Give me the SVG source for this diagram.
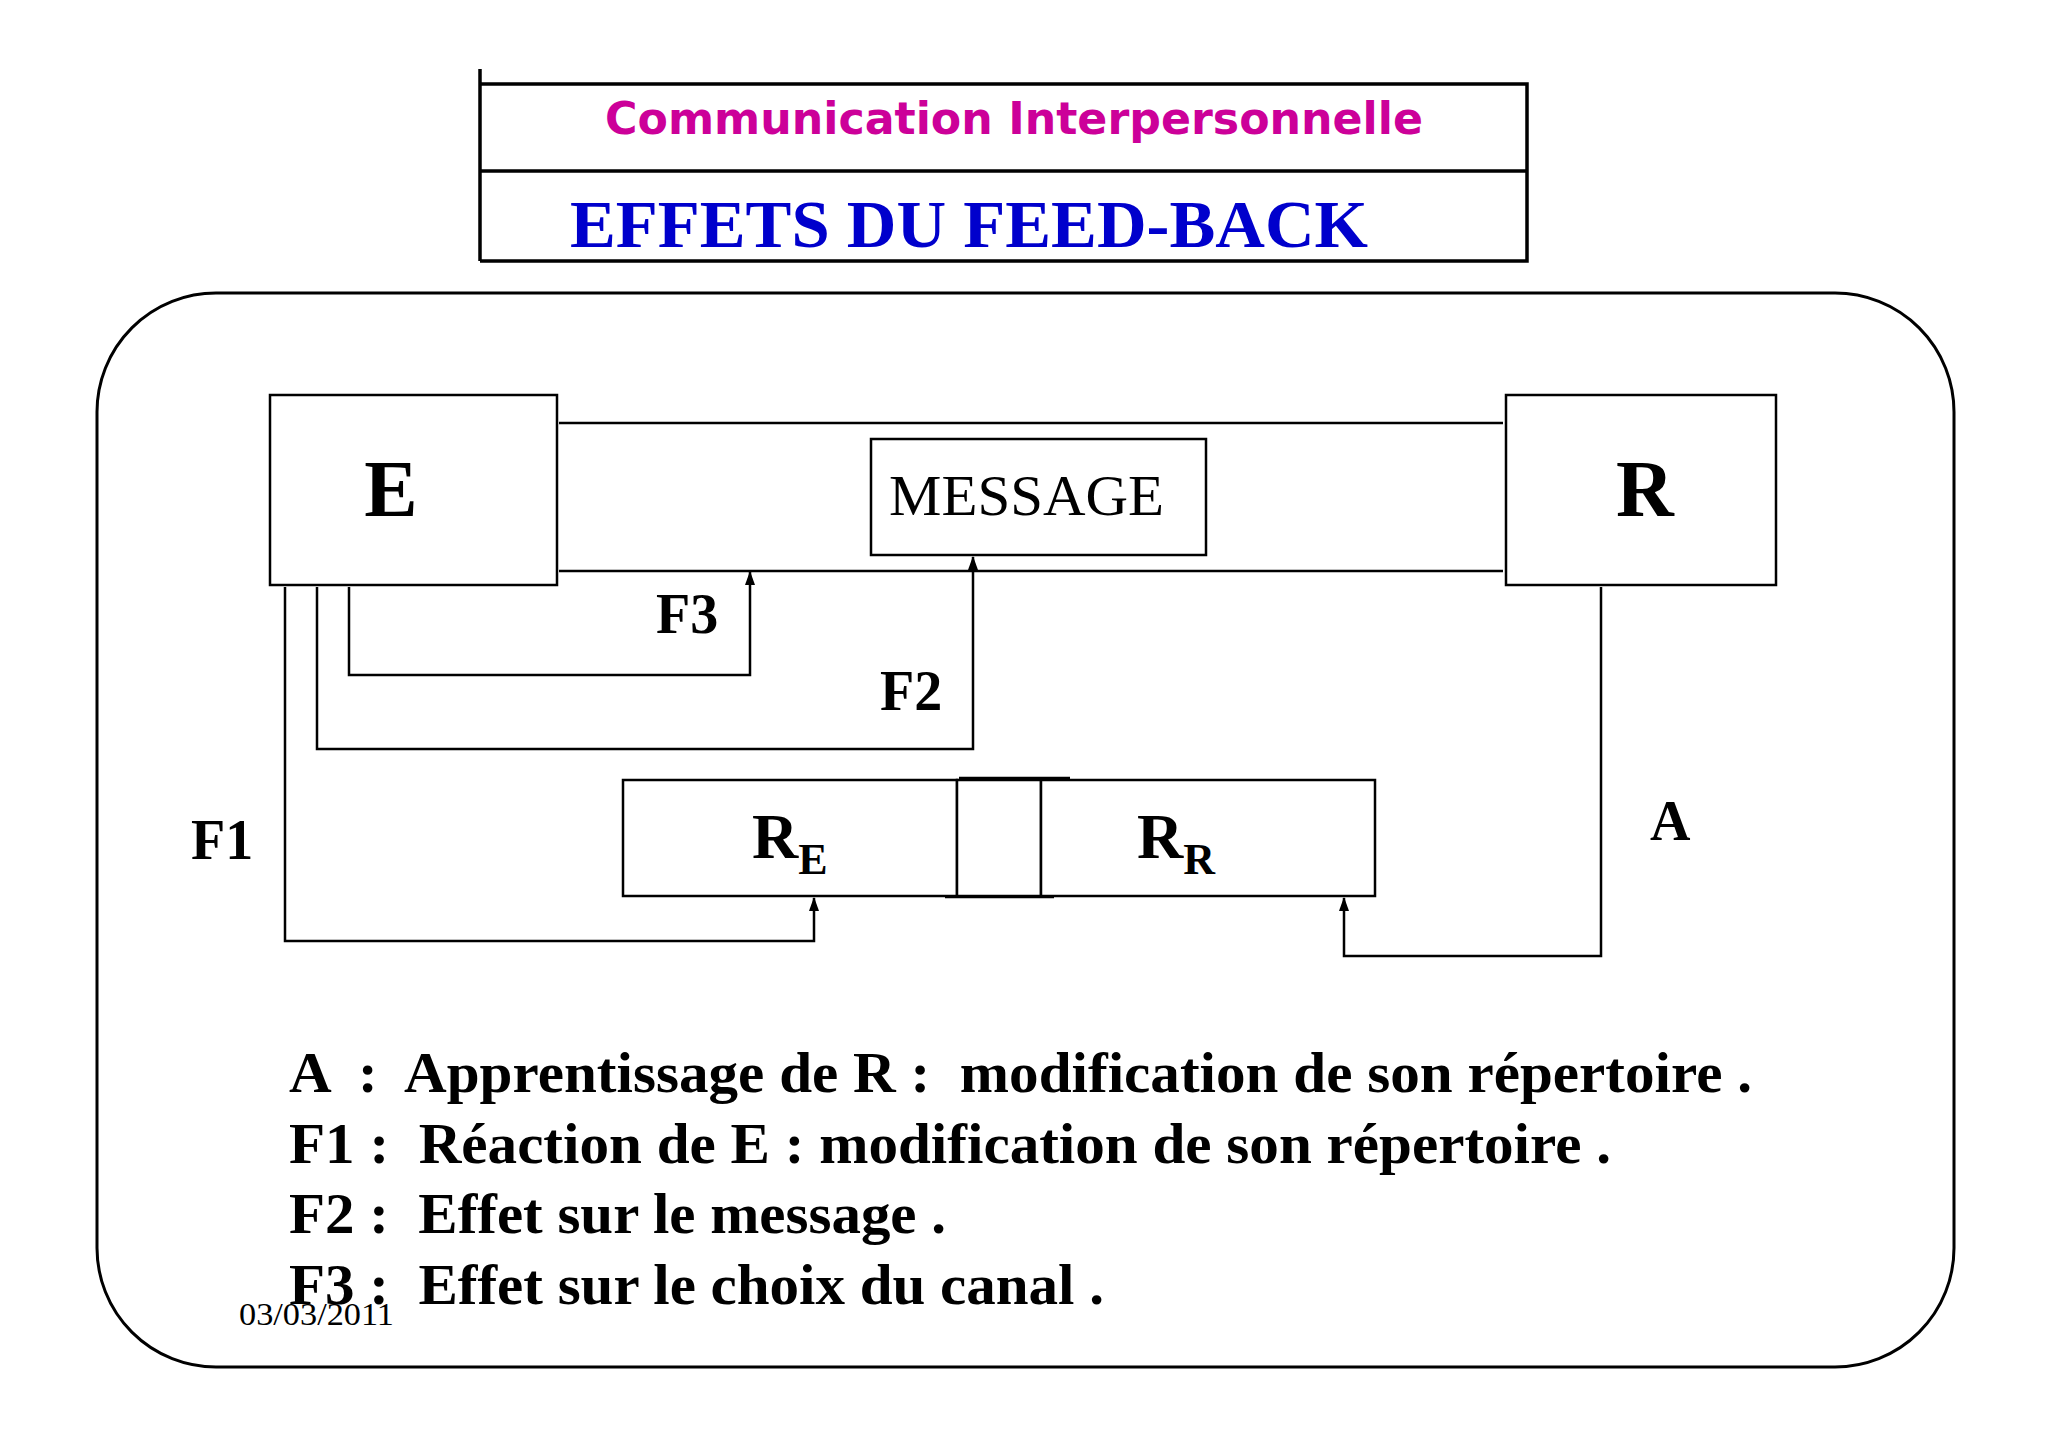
<svg xmlns="http://www.w3.org/2000/svg" width="2048" height="1447" viewBox="0 0 2048 1447">
<defs>
<style>
.b{fill:#fff;stroke:#000;stroke-width:2.5}
.l{fill:none;stroke:#000;stroke-width:2.5}
.s{font-family:"Liberation Serif",serif;fill:#000}
.bd{font-weight:bold}
</style>
<marker id="ar" markerWidth="14" markerHeight="10" refX="13" refY="5" orient="auto" markerUnits="userSpaceOnUse" viewBox="0 0 14 10"><path d="M0,0 L14,5 L0,10 Z" fill="#000"/></marker>
</defs>
<rect width="2048" height="1447" fill="#fff"/>
<g id="title">
<path d="M480,69 V261 M480,84 H1527 V261 H480 M480,171 H1527" fill="none" stroke="#000" stroke-width="3.5"/>
<text x="1014" y="134" text-anchor="middle" font-family="DejaVu Sans,sans-serif" font-weight="bold" font-size="44" fill="#CC0099" textLength="818" lengthAdjust="spacingAndGlyphs">Communication Interpersonnelle</text>
<text x="570" y="247" class="s bd" font-size="68" style="fill:#0000CC" textLength="798" lengthAdjust="spacingAndGlyphs">EFFETS DU FEED-BACK</text>
</g>
<rect id="frame" x="97" y="293" width="1857" height="1074" rx="119" ry="119" fill="none" stroke="#000" stroke-width="3"/>
<g id="connectors">
<path class="l" d="M559,423 H1503 M559,571 H1503"/>
<path class="l" d="M349,587 V675 H750 V572" marker-end="url(#ar)"/>
<path class="l" d="M317,587 V749 H973 V557" marker-end="url(#ar)"/>
<path class="l" d="M285,587 V941 H814 V898" marker-end="url(#ar)"/>
<path class="l" d="M1601,587 V956 H1344 V898" marker-end="url(#ar)"/>
</g>
<g id="E"><rect class="b" x="270" y="395" width="287" height="190"/><text class="s bd" x="391" y="516" font-size="80" text-anchor="middle">E</text></g>
<g id="R"><rect class="b" x="1506" y="395" width="270" height="190"/><text class="s bd" x="1645" y="516" font-size="80" text-anchor="middle">R</text></g>
<g id="MESSAGE"><rect class="b" x="871" y="439" width="335" height="116"/><text class="s" x="889" y="515" font-size="58" textLength="275" lengthAdjust="spacingAndGlyphs">MESSAGE</text></g>
<g id="RE"><rect class="b" x="623" y="780" width="334" height="116"/><text class="s bd" x="752" y="858" font-size="64">R<tspan font-size="44" dy="16">E</tspan></text></g>
<g id="mid"><rect class="b" x="957" y="780" width="84" height="116"/><path class="l" d="M959,778 H1070 M945,897 H1054"/></g>
<g id="RR"><rect class="b" x="1041" y="780" width="334" height="116"/><text class="s bd" x="1137" y="858" font-size="64">R<tspan font-size="44" dy="16">R</tspan></text></g>
<g id="labels" class="s bd" font-size="56">
<text x="656" y="633">F3</text>
<text x="880" y="710">F2</text>
<text x="191" y="859">F1</text>
<text x="1650" y="840">A</text>
</g>
<g id="legend" class="s bd" font-size="56">
<text x="289" y="1092" textLength="1463" lengthAdjust="spacingAndGlyphs" xml:space="preserve">A  :  Apprentissage de R :  modification de son répertoire .</text>
<text x="289" y="1163" textLength="1322" lengthAdjust="spacingAndGlyphs" xml:space="preserve">F1 :  Réaction de E : modification de son répertoire .</text>
<text x="289" y="1233" textLength="657" lengthAdjust="spacingAndGlyphs" xml:space="preserve">F2 :  Effet sur le message .</text>
<text x="289" y="1304" textLength="815" lengthAdjust="spacingAndGlyphs" xml:space="preserve">F3 :  Effet sur le choix du canal .</text>
</g>
<text class="s" x="239" y="1325" font-size="32" textLength="155" lengthAdjust="spacingAndGlyphs">03/03/2011</text>
</svg>
